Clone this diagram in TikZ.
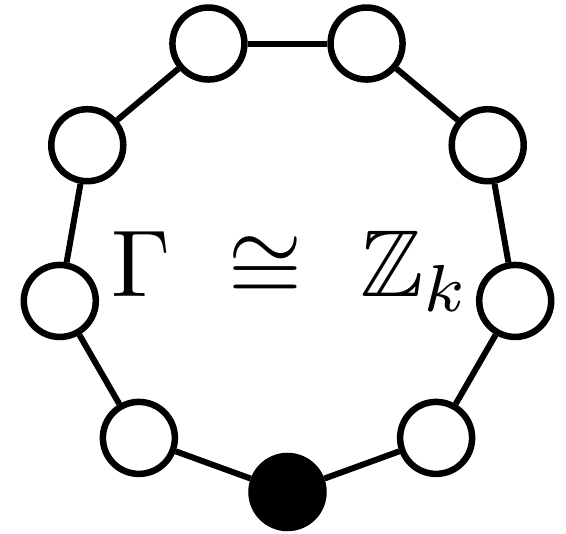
\documentclass[tikz,border=0pt]{standalone}
\usepackage{amssymb}
\usepackage{graphicx}
\usetikzlibrary{calc}
\begin{document}
\begin{tikzpicture}[x=1pt,y=-1pt,
  vert/.style={circle,draw=black,line width=6.5pt,fill=white,minimum size=72pt,inner sep=0pt},
  vfill/.style={vert,fill=black},
  edge/.style={line width=6pt}]
\useasboundingbox (0,0) rectangle (566,534);
\coordinate (c) at (287.5,260.8);
\node[vfill] (v0) at ($(c)+(0,231.2)$) {};
\foreach \i [evaluate=\i as \a using -90-40*\i] in {1,...,8}{
  \node[vert] (v\i) at ($(c)+({231.2*cos(\a)},{-231.2*sin(\a)})$) {};
}
\foreach \i/\j in {0/1,1/2,2/3,3/4,4/5,5/6,6/7,7/8,8/0}{
  \draw[edge] (v\i) -- (v\j);
}
\node[anchor=base,inner sep=0pt] (lbl) at (291,297) {\scalebox{9.5}{$\Gamma\ \cong\ \mathbb{Z}_k$}};
\end{tikzpicture}
\end{document}
